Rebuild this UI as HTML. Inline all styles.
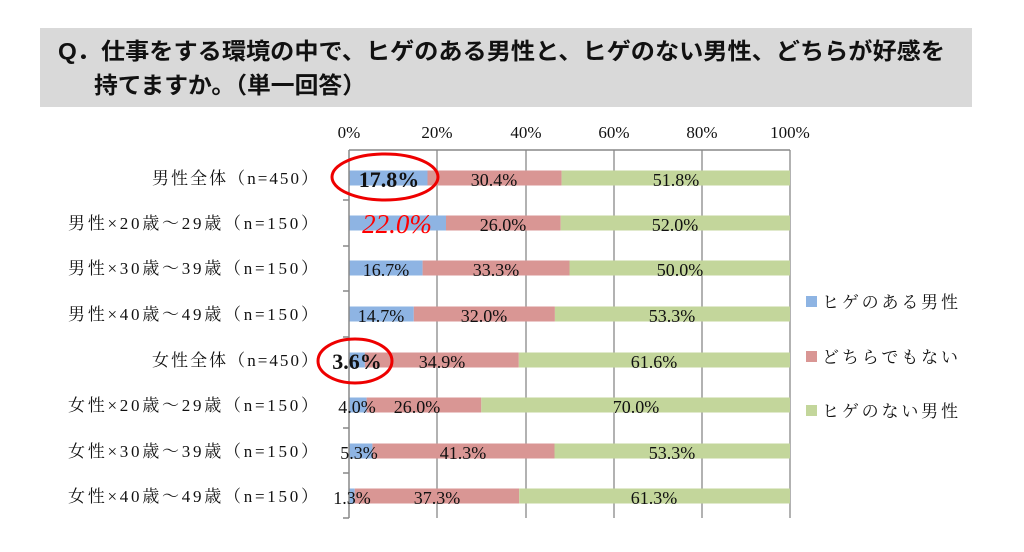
<!DOCTYPE html>
<html><head><meta charset="utf-8"><style>
body{margin:0;background:#fff;width:1024px;height:552px;overflow:hidden}
svg{display:block}
.t{font-family:"Liberation Sans","Noto Sans CJK JP",sans-serif;font-weight:bold;font-size:23px;fill:#111}
.s{font-family:"Liberation Serif","Noto Serif CJK SC",serif;font-size:18px;fill:#111}
.c{font-family:"Liberation Serif","Noto Serif CJK SC",serif;font-size:17px;fill:#111}
</style></head><body>
<svg width="1024" height="552" xmlns="http://www.w3.org/2000/svg">
<rect x="40" y="28" width="932" height="79" fill="#d9d9d9"/>
<text class="t" x="58" y="59" textLength="887" lengthAdjust="spacingAndGlyphs">Q．仕事をする環境の中で、ヒゲのある男性と、ヒゲのない男性、どちらが好感を</text>
<text class="t" x="94" y="93" textLength="272" lengthAdjust="spacingAndGlyphs">持てますか。（単一回答）</text>
<g class="c" text-anchor="middle">
<text x="349" y="138">0%</text><text x="437" y="138">20%</text><text x="526" y="138">40%</text>
<text x="614" y="138">60%</text><text x="702" y="138">80%</text><text x="790" y="138">100%</text>
</g>
<g stroke="#999" stroke-width="1.5">
<line x1="437" y1="150" x2="437" y2="518"/><line x1="526" y1="150" x2="526" y2="518"/>
<line x1="614" y1="150" x2="614" y2="518"/><line x1="702" y1="150" x2="702" y2="518"/>
<line x1="790" y1="150" x2="790" y2="518"/>
</g>
<g>
<rect x="349" y="170.5" width="78.5" height="15" fill="#8eb4e3"/><rect x="427.5" y="170.5" width="134.1" height="15" fill="#d99694"/><rect x="561.6" y="170.5" width="228.4" height="15" fill="#c3d69b"/>
<rect x="349" y="215.5" width="97" height="15" fill="#8eb4e3"/><rect x="446" y="215.5" width="114.7" height="15" fill="#d99694"/><rect x="560.7" y="215.5" width="229.3" height="15" fill="#c3d69b"/>
<rect x="349" y="260.5" width="73.6" height="15" fill="#8eb4e3"/><rect x="422.6" y="260.5" width="146.9" height="15" fill="#d99694"/><rect x="569.5" y="260.5" width="220.5" height="15" fill="#c3d69b"/>
<rect x="349" y="306.5" width="64.8" height="15" fill="#8eb4e3"/><rect x="413.8" y="306.5" width="141.1" height="15" fill="#d99694"/><rect x="554.9" y="306.5" width="235.1" height="15" fill="#c3d69b"/>
<rect x="349" y="352.5" width="15.9" height="15" fill="#8eb4e3"/><rect x="364.9" y="352.5" width="153.9" height="15" fill="#d99694"/><rect x="518.8" y="352.5" width="271.2" height="15" fill="#c3d69b"/>
<rect x="349" y="397.5" width="17.6" height="15" fill="#8eb4e3"/><rect x="366.6" y="397.5" width="114.7" height="15" fill="#d99694"/><rect x="481.3" y="397.5" width="308.7" height="15" fill="#c3d69b"/>
<rect x="349" y="443.5" width="23.4" height="15" fill="#8eb4e3"/><rect x="372.4" y="443.5" width="182.1" height="15" fill="#d99694"/><rect x="554.5" y="443.5" width="235.5" height="15" fill="#c3d69b"/>
<rect x="349" y="488.5" width="5.7" height="15" fill="#8eb4e3"/><rect x="354.7" y="488.5" width="164.5" height="15" fill="#d99694"/><rect x="519.2" y="488.5" width="270.8" height="15" fill="#c3d69b"/>
</g>
<g stroke="#888" stroke-width="1.5">
<line x1="349" y1="150" x2="349" y2="518"/>
<line x1="349" y1="150" x2="790" y2="150"/>
<line x1="343" y1="200" x2="349" y2="200"/><line x1="343" y1="246" x2="349" y2="246"/>
<line x1="343" y1="291" x2="349" y2="291"/><line x1="343" y1="337" x2="349" y2="337"/>
<line x1="343" y1="382" x2="349" y2="382"/><line x1="343" y1="428" x2="349" y2="428"/>
<line x1="343" y1="473" x2="349" y2="473"/><line x1="343" y1="518" x2="349" y2="518"/>
</g>
<g class="c">
<text x="152" y="184" textLength="166">男性全体（n=450）</text>
<text x="68" y="229" textLength="250">男性×20歳～29歳（n=150）</text>
<text x="68" y="274" textLength="250">男性×30歳～39歳（n=150）</text>
<text x="68" y="320" textLength="250">男性×40歳～49歳（n=150）</text>
<text x="152" y="366" textLength="166">女性全体（n=450）</text>
<text x="68" y="411" textLength="250">女性×20歳～29歳（n=150）</text>
<text x="68" y="457" textLength="250">女性×30歳～39歳（n=150）</text>
<text x="68" y="502" textLength="250">女性×40歳～49歳（n=150）</text>
</g>
<g class="s" text-anchor="middle">
<text x="389" y="187" style="font-size:22px;font-weight:bold">17.8%</text>
<text x="494" y="186">30.4%</text><text x="676" y="186">51.8%</text>
<text x="397" y="233" style="font-size:27px;font-style:italic;fill:#f00">22.0%</text>
<text x="503" y="231">26.0%</text><text x="675" y="231">52.0%</text>
<text x="386" y="276">16.7%</text><text x="496" y="276">33.3%</text><text x="680" y="276">50.0%</text>
<text x="381" y="322">14.7%</text><text x="484" y="322">32.0%</text><text x="672" y="322">53.3%</text>
<text x="357" y="369" style="font-size:22px;font-weight:bold">3.6%</text>
<text x="442" y="368">34.9%</text><text x="654" y="368">61.6%</text>
<text x="357" y="413">4.0%</text><text x="417" y="413">26.0%</text><text x="636" y="413">70.0%</text>
<text x="359" y="459">5.3%</text><text x="463" y="459">41.3%</text><text x="672" y="459">53.3%</text>
<text x="352" y="504">1.3%</text><text x="437" y="504">37.3%</text><text x="654" y="504">61.3%</text>
</g>
<ellipse cx="385" cy="177" rx="53" ry="23" fill="none" stroke="#e00" stroke-width="3"/>
<ellipse cx="355" cy="361" rx="37" ry="22" fill="none" stroke="#e00" stroke-width="3"/>
<g class="c">
<rect x="806" y="296" width="11" height="11" fill="#8eb4e3"/><text x="822" y="308" textLength="136">ヒゲのある男性</text>
<rect x="806" y="351" width="11" height="11" fill="#d99694"/><text x="822" y="363" textLength="136">どちらでもない</text>
<rect x="806" y="405" width="11" height="11" fill="#c3d69b"/><text x="822" y="417" textLength="136">ヒゲのない男性</text>
</g>
</svg>
</body></html>
